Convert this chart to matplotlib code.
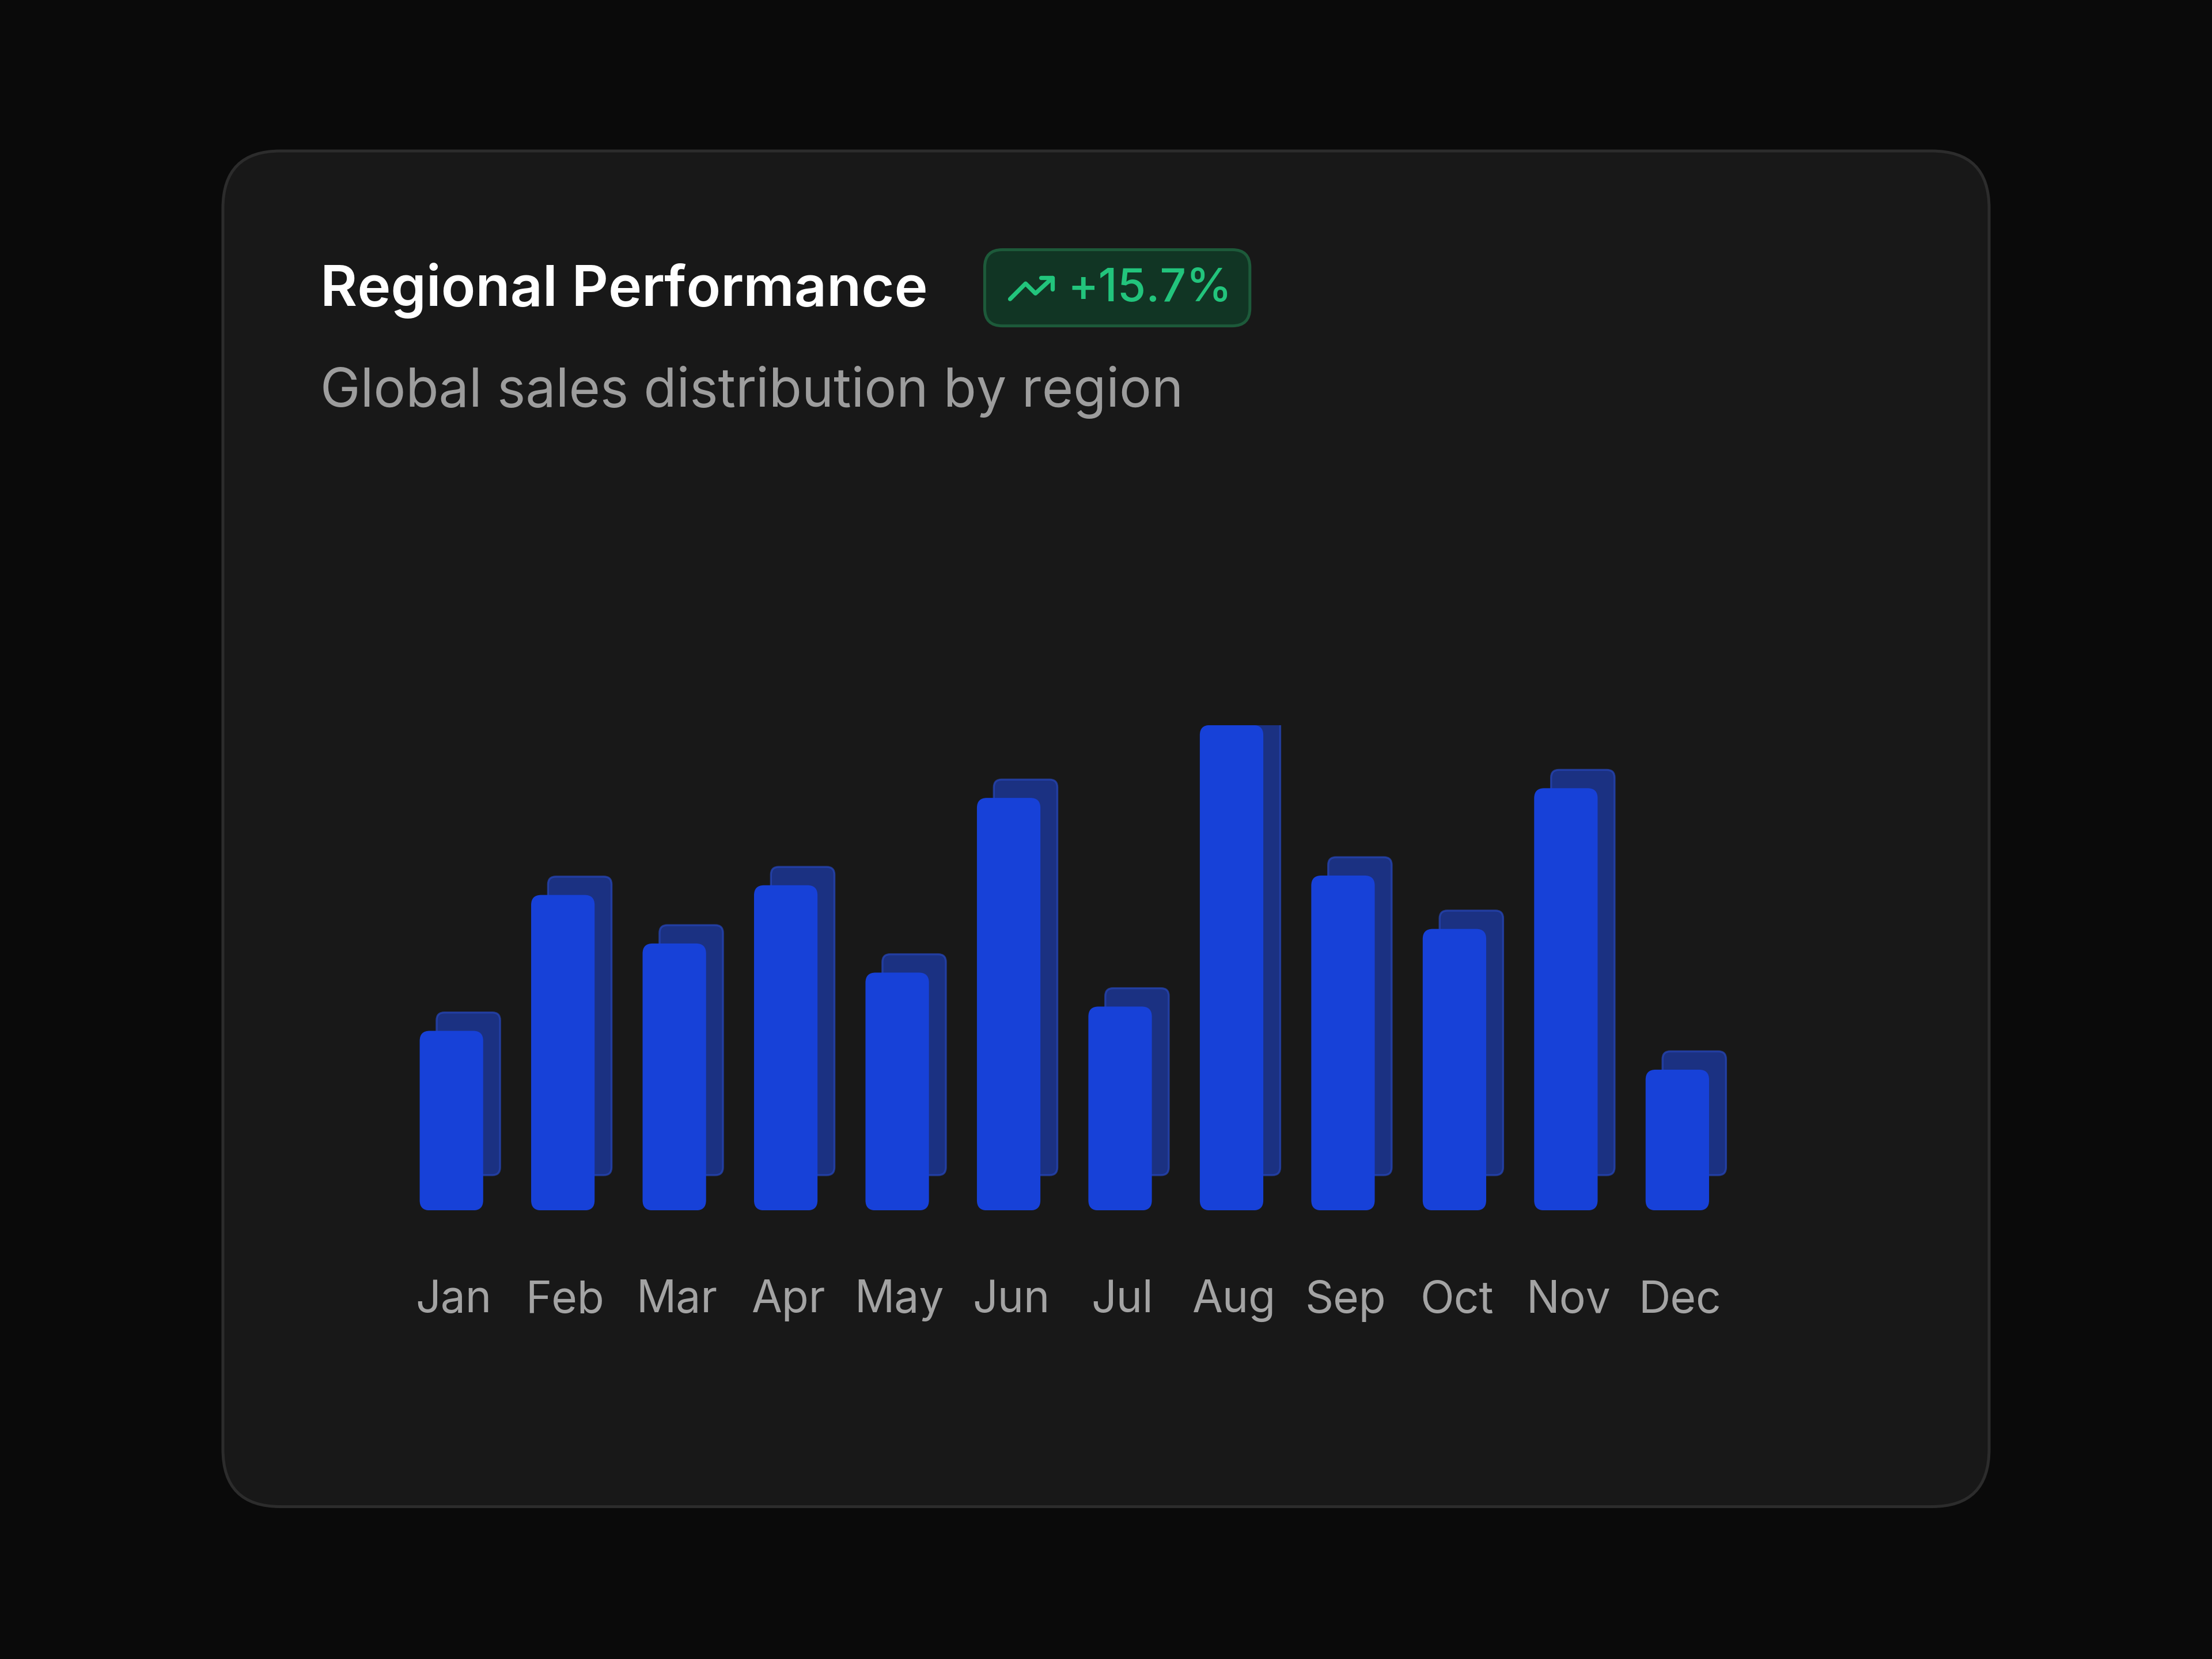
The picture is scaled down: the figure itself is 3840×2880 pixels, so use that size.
import matplotlib
matplotlib.use("Agg")
import matplotlib.pyplot as plt
import matplotlib.transforms as mtransforms
from matplotlib.patches import FancyBboxPatch
from matplotlib.lines import Line2D

months = ["Jan", "Feb", "Mar", "Apr", "May", "Jun", "Jul", "Aug", "Sep", "Oct", "Nov", "Dec"]
sales = [37, 65, 55, 67, 49, 85, 42, 100, 69, 58, 87, 29]
title = "Regional Performance"
subtitle = "Global sales distribution by region"
badge = "+15.7%"

W, H = 1568, 1176  # layout grid (reference px)
plt.rcParams["font.family"] = ["Inter", "DejaVu Sans"]

fig = plt.figure(figsize=(16, 12), dpi=240, facecolor="#0a0a0a")


def fx(x):
    return x / W


def fy(y):
    return 1 - y / H


# card
card = FancyBboxPatch((fx(158), fy(1068)), fx(1410 - 158), (1068 - 107) / H,
                      boxstyle="round,pad=0,rounding_size=0.026", mutation_aspect=W / H,
                      transform=fig.transFigure, facecolor="#181818", edgecolor="#2c2c2c",
                      linewidth=1.5, zorder=0)
fig.patches.append(card)

fig.text(fx(227), fy(206), title, color="white", fontsize=29.5, fontweight="semibold",
         va="center", ha="left", zorder=3)
fig.text(fx(227), fy(278), subtitle, color="#9d9d9d", fontsize=28, va="center", ha="left",
         zorder=3)

# badge
pill = FancyBboxPatch((fx(698), fy(231)), fx(188), 54 / H,
                      boxstyle="round,pad=0,rounding_size=0.008", mutation_aspect=W / H,
                      transform=fig.transFigure, facecolor="#113524", edgecolor="#1d5a3a",
                      linewidth=1.5, zorder=1)
fig.patches.append(pill)
fig.text(fx(757), fy(205), badge, color="#22c47c", fontsize=24, fontweight="medium",
         va="center", ha="left", zorder=3)
icon_x = [716, 727, 734, 746]
icon_y = [212, 201, 208, 197]
fig.lines.append(Line2D([fx(v) for v in icon_x], [fy(v) for v in icon_y],
                        transform=fig.transFigure, color="#22c47c", linewidth=2.2,
                        solid_joinstyle="round", solid_capstyle="round", zorder=3))
fig.lines.append(Line2D([fx(738), fx(746), fx(746)], [fy(197), fy(197), fy(205)],
                        transform=fig.transFigure, color="#22c47c", linewidth=2.2,
                        solid_joinstyle="round", solid_capstyle="round", zorder=3))

# bar axes: x index -0.5..11.5 -> px 280.5..1228.5, y 0..100 -> px 858..514
ax = fig.add_axes([fx(280.5), fy(858), fx(948), (858 - 514) / H])
ax.set_zorder(5)
ax.patch.set_visible(False)
ax.set_xlim(-0.5, 11.5)
ax.set_ylim(0, 100)
ax.axis("off")

bw = 45 / 79
ypx = 344 / 100
aspect = 79 / ypx
scale = 240 * 16 / W  # real px per layout px
shift = mtransforms.ScaledTranslation(12 * scale / 240, 13 * scale / 240, fig.dpi_scale_trans)

for i, v in enumerate(sales):
    back = FancyBboxPatch((i - bw / 2, 12 / ypx), bw, v - 12 / ypx,
                          boxstyle="round,pad=0,rounding_size=0.07", mutation_aspect=aspect,
                          facecolor="#1d3aa6", edgecolor="#2646b8", linewidth=1.0, alpha=0.75,
                          transform=ax.transData + shift)
    ax.add_patch(back)
    front = FancyBboxPatch((i - bw / 2, 0), bw, v,
                           boxstyle="round,pad=0,rounding_size=0.09", mutation_aspect=aspect,
                           facecolor="#1741d8", edgecolor="none")
    ax.add_patch(front)
    ax.text(i + 0.02, -64 / ypx, months[i], color="#a3a3a3", fontsize=23,
            ha="center", va="center", clip_on=False)

fig.savefig("out.png", dpi=240, facecolor=fig.get_facecolor())
